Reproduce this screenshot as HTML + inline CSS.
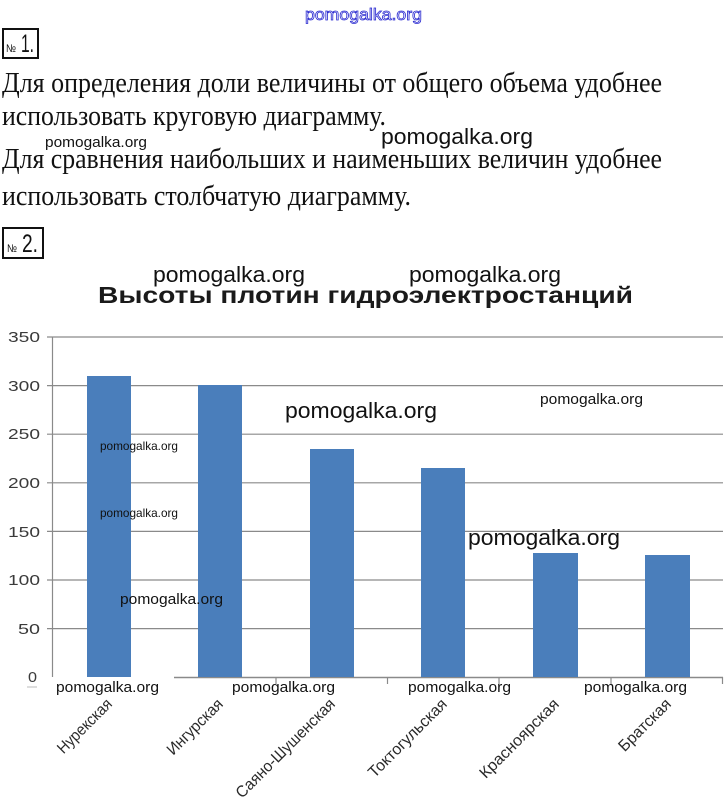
<!DOCTYPE html>
<html>
<head>
<meta charset="utf-8">
<style>
html,body{margin:0;padding:0;background:#fff;}
svg{display:block;}
.serif{font-family:"Liberation Serif","Noto Serif CJK SC",serif;fill:#111;}
.sans{font-family:"Liberation Sans","DejaVu Sans",sans-serif;}
.wm{font-family:"Liberation Sans","DejaVu Sans",sans-serif;fill:#111;}
.ax{font-family:"Liberation Sans","DejaVu Sans",sans-serif;fill:#3a3a3a;font-size:15px;}
.cat{font-family:"Liberation Sans","DejaVu Sans",sans-serif;fill:#2a2a2a;font-size:16px;}
</style>
</head>
<body>
<svg width="727" height="802" viewBox="0 0 727 802" xmlns="http://www.w3.org/2000/svg">
<rect x="0" y="0" width="727" height="802" fill="#fff"/>

<!-- top watermark (outlined blue) -->
<text x="305" y="20" class="sans" font-size="17" fill="#fff" stroke="#2a2ad0" stroke-width="0.8" textLength="117" lengthAdjust="spacingAndGlyphs">pomogalka.org</text>

<!-- box 1 -->
<rect x="3" y="29" width="35" height="29" fill="none" stroke="#111" stroke-width="2"/>
<text x="6" y="52" class="sans" font-size="11" fill="#111" textLength="10" lengthAdjust="spacingAndGlyphs">№</text>
<text x="21" y="52" class="sans" font-size="25" fill="#111" textLength="13" lengthAdjust="spacingAndGlyphs">1.</text>

<!-- paragraph text -->
<text x="2" y="92" class="serif" font-size="28" textLength="660" lengthAdjust="spacingAndGlyphs">Для определения доли величины от общего объема удобнее</text>
<text x="2" y="125" class="serif" font-size="28" textLength="384" lengthAdjust="spacingAndGlyphs">использовать круговую диаграмму.</text>
<text x="2" y="168" class="serif" font-size="28" textLength="660" lengthAdjust="spacingAndGlyphs">Для сравнения наибольших и наименьших величин удобнее</text>
<text x="2" y="205" class="serif" font-size="28" textLength="409" lengthAdjust="spacingAndGlyphs">использовать столбчатую диаграмму.</text>

<!-- text-area watermarks -->
<text x="45" y="147" class="wm" font-size="15" textLength="102" lengthAdjust="spacingAndGlyphs">pomogalka.org</text>
<text x="381" y="144" class="wm" font-size="22" textLength="152" lengthAdjust="spacingAndGlyphs">pomogalka.org</text>

<!-- box 2 -->
<rect x="3" y="228" width="40" height="30" fill="none" stroke="#111" stroke-width="2"/>
<text x="7" y="252" class="sans" font-size="11" fill="#111" textLength="10" lengthAdjust="spacingAndGlyphs">№</text>
<text x="22" y="252" class="sans" font-size="25" fill="#111" textLength="16" lengthAdjust="spacingAndGlyphs">2.</text>

<!-- chart title -->
<text x="98" y="303" class="sans" font-size="23" font-weight="bold" fill="#1a1a1a" textLength="535" lengthAdjust="spacingAndGlyphs">Высоты плотин гидроэлектростанций</text>

<!-- gridlines -->
<g stroke="#8a8a8a" stroke-width="1.2">
<line x1="47" y1="337" x2="723" y2="337"/>
<line x1="47" y1="385.6" x2="723" y2="385.6"/>
<line x1="47" y1="434.2" x2="723" y2="434.2"/>
<line x1="47" y1="482.8" x2="723" y2="482.8"/>
<line x1="47" y1="531.4" x2="723" y2="531.4"/>
<line x1="47" y1="580" x2="723" y2="580"/>
<line x1="47" y1="628.6" x2="723" y2="628.6"/>
</g>
<!-- axes -->
<line x1="52.5" y1="337" x2="52.5" y2="677" stroke="#8a8a8a" stroke-width="1.2"/>
<line x1="174" y1="677.5" x2="723" y2="677.5" stroke="#8a8a8a" stroke-width="1.5"/>
<g stroke="#8a8a8a" stroke-width="1.2">
<line x1="276" y1="677" x2="276" y2="684"/>
<line x1="387.5" y1="677" x2="387.5" y2="684"/>
<line x1="499" y1="677" x2="499" y2="684"/>
<line x1="611" y1="677" x2="611" y2="684"/>
<line x1="722.5" y1="677" x2="722.5" y2="684"/>
</g>

<!-- bars -->
<g fill="#4a7ebb">
<rect x="87" y="376" width="44" height="301"/>
<rect x="198" y="385" width="44" height="292"/>
<rect x="310" y="449" width="44" height="228"/>
<rect x="421" y="468" width="44" height="209"/>
<rect x="533" y="553" width="45" height="124"/>
<rect x="645" y="555" width="45" height="122"/>
</g>

<!-- y labels -->
<text x="8" y="342" class="ax" textLength="32" lengthAdjust="spacingAndGlyphs">350</text>
<text x="8" y="391" class="ax" textLength="32" lengthAdjust="spacingAndGlyphs">300</text>
<text x="8" y="439" class="ax" textLength="32" lengthAdjust="spacingAndGlyphs">250</text>
<text x="8" y="488" class="ax" textLength="32" lengthAdjust="spacingAndGlyphs">200</text>
<text x="8" y="537" class="ax" textLength="32" lengthAdjust="spacingAndGlyphs">150</text>
<text x="8" y="585" class="ax" textLength="32" lengthAdjust="spacingAndGlyphs">100</text>
<text x="18" y="634" class="ax" textLength="22" lengthAdjust="spacingAndGlyphs">50</text>
<text x="28" y="682" class="ax" textLength="9" lengthAdjust="spacingAndGlyphs">0</text>
<line x1="27" y1="687" x2="37" y2="687" stroke="#bbb" stroke-width="1"/>

<!-- category labels -->
<text class="cat" text-anchor="end" transform="translate(113,705) rotate(-45)" textLength="70" lengthAdjust="spacingAndGlyphs">Нурекская</text>
<text class="cat" text-anchor="end" transform="translate(224,705) rotate(-45)" textLength="72" lengthAdjust="spacingAndGlyphs">Ингурская</text>
<text class="cat" text-anchor="end" transform="translate(336,705) rotate(-45)" textLength="133" lengthAdjust="spacingAndGlyphs">Саяно-Шушенская</text>
<text class="cat" text-anchor="end" transform="translate(448,705) rotate(-45)" textLength="104" lengthAdjust="spacingAndGlyphs">Токтогульская</text>
<text class="cat" text-anchor="end" transform="translate(560,705) rotate(-45)" textLength="105" lengthAdjust="spacingAndGlyphs">Красноярская</text>
<text class="cat" text-anchor="end" transform="translate(672,705) rotate(-45)" textLength="67" lengthAdjust="spacingAndGlyphs">Братская</text>

<!-- chart watermarks -->
<text x="153" y="282" class="wm" font-size="22" textLength="152" lengthAdjust="spacingAndGlyphs">pomogalka.org</text>
<text x="409" y="282" class="wm" font-size="22" textLength="152" lengthAdjust="spacingAndGlyphs">pomogalka.org</text>
<text x="285" y="418" class="wm" font-size="22" textLength="152" lengthAdjust="spacingAndGlyphs">pomogalka.org</text>
<text x="540" y="404" class="wm" font-size="15" textLength="103" lengthAdjust="spacingAndGlyphs">pomogalka.org</text>
<text x="100" y="450" class="wm" font-size="12" textLength="78" lengthAdjust="spacingAndGlyphs">pomogalka.org</text>
<text x="100" y="517" class="wm" font-size="12" textLength="78" lengthAdjust="spacingAndGlyphs">pomogalka.org</text>
<text x="120" y="604" class="wm" font-size="15" textLength="103" lengthAdjust="spacingAndGlyphs">pomogalka.org</text>
<text x="468" y="545" class="wm" font-size="22" textLength="152" lengthAdjust="spacingAndGlyphs">pomogalka.org</text>
<text x="56" y="692" class="wm" font-size="15" textLength="103" lengthAdjust="spacingAndGlyphs">pomogalka.org</text>
<text x="232" y="692" class="wm" font-size="15" textLength="103" lengthAdjust="spacingAndGlyphs">pomogalka.org</text>
<text x="408" y="692" class="wm" font-size="15" textLength="103" lengthAdjust="spacingAndGlyphs">pomogalka.org</text>
<text x="584" y="692" class="wm" font-size="15" textLength="103" lengthAdjust="spacingAndGlyphs">pomogalka.org</text>
</svg>
</body>
</html>
